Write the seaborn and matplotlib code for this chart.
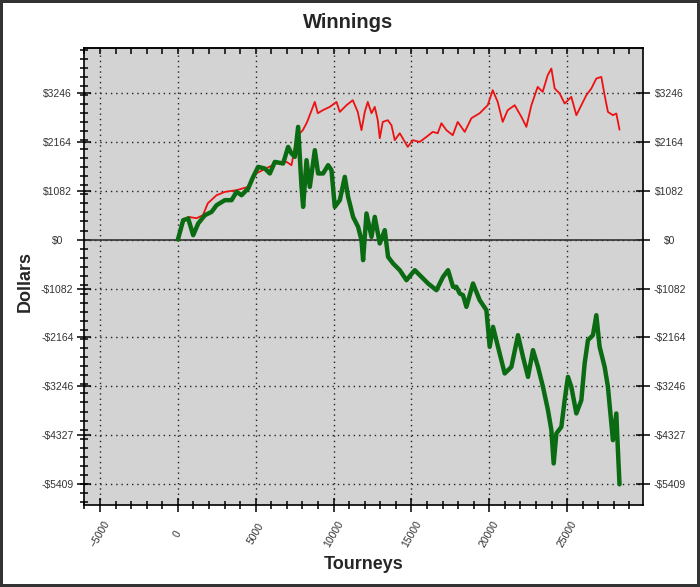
import pandas as pd
import matplotlib.pyplot as plt
import seaborn as sns
from matplotlib.ticker import FixedLocator, MultipleLocator

# values (tourneys played vs cumulative dollars)
red_tourneys = [0, 321, 661, 1200, 1605, 1925, 2484, 3017, 3768, 4493, 5051, 5693, 6335, 6977,
                7297, 7509, 7830, 8023, 8260, 8343, 8792, 8985, 9306, 9755, 10185, 10397, 10827,
                11231, 11552, 11790, 12002, 12194, 12432, 12643, 12836, 12964, 13157, 13478,
                13715, 13927, 14248, 14761, 15082, 15532, 15962, 16366, 16687, 16924, 17245,
                17650, 17970, 18420, 18850, 19382, 19896, 20217, 20538, 20859, 21179, 21629,
                22059, 22380, 22701, 23105, 23426, 23747, 23984, 24196, 24517, 24837, 25267,
                25589, 25909, 26230, 26551, 26872, 27193, 27404, 27616, 27937, 28155, 28360]
red_dollars = [0, 385, 502, 473, 539, 804, 981, 1054, 1092, 1165, 1467, 1578, 1688, 1717,
               1644, 2049, 2351, 2418, 2572, 2639, 3043, 2793, 2860, 2933, 3043, 2822, 2970,
               3081, 2822, 2418, 2822, 3043, 2793, 2933, 2639, 2241, 2601, 2639,
               2528, 2197, 2351, 2049, 2197, 2159, 2270, 2380, 2351, 2572, 2418,
               2307, 2601, 2380, 2683, 2793, 2970, 3302, 3043, 2601, 2860, 2970,
               2712, 2491, 2970, 3375, 3264, 3633, 3781, 3339, 3229, 3008, 3154,
               2749, 2970, 3191, 3339, 3560, 3596, 3191, 2822, 2749, 2787, 2430]

green_tourneys = [0, 340, 661, 982, 1303, 1733, 2163, 2484, 3016, 3446, 3767, 4088, 4512, 4833,
                  5154, 5584, 5905, 6225, 6758, 7079, 7297, 7509, 7721, 7939, 8042, 8260, 8472,
                  8793, 9004, 9325, 9646, 9864, 10076, 10397, 10718, 10930, 11251, 11572, 11790,
                  11893, 12111, 12432, 12643, 12964, 13285, 13497, 13818, 14248, 14678, 15211,
                  15641, 16065, 16604, 17027, 17348, 17669, 17887, 18099, 18310, 18528, 18952,
                  19382, 19812, 20024, 20236, 20557, 20987, 21417, 21841, 22162, 22483, 22804,
                  23124, 23445, 23766, 23984, 24132, 24305, 24626, 24837, 25049, 25267, 25589,
                  25909, 26121, 26333, 26654, 26872, 27084, 27405, 27616, 27937, 28155, 28258,
                  28360]
green_dollars = [0, 429, 466, 97, 356, 539, 612, 760, 871, 871, 1054, 981, 1129, 1386,
                 1607, 1571, 1461, 1717, 1682, 2049, 1903, 1828, 2491, 1165, 723, 1755, 1165,
                 1976, 1461, 1461, 1644, 1534, 723, 871, 1386, 944, 502, 281, -13,
                 -455, 577, 60, 502, -86, 208, -382, -528, -676, -897, -676,
                 -824, -970, -1118, -824, -676, -1045, -1045, -1191, -1229, -1487, -970,
                 -1339, -1560, -2371, -1929, -2371, -2959, -2813, -2113, -2592, -3034, -2444,
                 -2813, -3255, -3770, -4212, -4948, -4285, -4139, -3549, -3034, -3255, -3843,
                 -3549, -2738, -2223, -2113, -1671, -2371, -2813, -3255, -4433, -3843, -4654,
                 -5409]

xtick_values = [-5000, 0, 5000, 10000, 15000, 20000, 25000]
ytick_values = [-5409, -4327, -3246, -2164, -1082, 0, 1082, 2164, 3246]
ytick_labels = ["-$5409", "-$4327", "-$3246", "-$2164", "-$1082", "$0", "$1082", "$2164", "$3246"]

sns.set_style("ticks")
plt.rcParams["font.family"] = ["Liberation Sans", "DejaVu Sans"]

fig = plt.figure(figsize=(7, 5.87), dpi=100)
fig.patch.set_edgecolor("#333333")
fig.patch.set_linewidth(3)
ax = fig.add_axes([0.12, 0.1397, 0.7986, 0.7785])
ax.set_facecolor("#d3d3d3")

red = pd.DataFrame({"Tourneys": red_tourneys, "Dollars": red_dollars})
green = pd.DataFrame({"Tourneys": green_tourneys, "Dollars": green_dollars})

ax.axhline(0, color="#333333", lw=1.2, zorder=1)
sns.lineplot(data=red, x="Tourneys", y="Dollars", color="#ee1111", lw=1.3, ax=ax, zorder=3)
sns.lineplot(data=green, x="Tourneys", y="Dollars", color="#0a6b12", lw=3.2, ax=ax, zorder=4)

ax.set_xlim(-6030, 29870)
ax.set_ylim(-5866, 4234)

ax.xaxis.set_major_locator(FixedLocator(xtick_values))
ax.xaxis.set_minor_locator(MultipleLocator(1000))
ax.set_yticks(ytick_values)
ax.set_yticklabels(ytick_labels)
ax.yaxis.set_minor_locator(MultipleLocator(200))

ax.grid(True, which="major", color="#222222", ls=(0, (1, 2.8)), lw=1.0)
ax.set_axisbelow(True)

for s in ax.spines.values():
    s.set_visible(True)
    s.set_color("black")
    s.set_linewidth(1.2)

ax.tick_params(which="both", direction="inout", color="black", width=1.1,
               labelsize=7.5, labelcolor="#333333")
ax.tick_params(which="major", length=9.5)
ax.tick_params(which="minor", length=5.5)
ax.tick_params(axis="y", left=True, right=True, labelleft=True, labelright=True, pad=14.5)
ax.tick_params(axis="x", pad=16)
plt.setp(ax.get_xticklabels(), rotation=60, ha="center", va="center")
plt.setp(ax.yaxis.get_ticklabels(), ha="center")

# small inward ticks along the top edge
top = ax.secondary_xaxis("top")
top.set_xticks(range(-6000, 30000, 1000))
top.tick_params(direction="in", length=4, width=1.1, color="black", labeltop=False)
top.spines["top"].set_linewidth(1.2)

ax.set_xlabel("Tourneys", fontsize=13, fontweight="bold")
ax.xaxis.label.set_va("center")
ax.xaxis.set_label_coords(0.5, -0.131)
ax.set_ylabel("Dollars", fontsize=13, fontweight="bold")
ax.yaxis.label.set_va("center")
ax.yaxis.set_label_coords(-0.1055, 0.49)

fig.suptitle("Winnings", x=348.5 / 700, y=1 - 22 / 587, va="center",
             fontsize=14.5, fontweight="bold")

fig.savefig("out.png", dpi=100)
